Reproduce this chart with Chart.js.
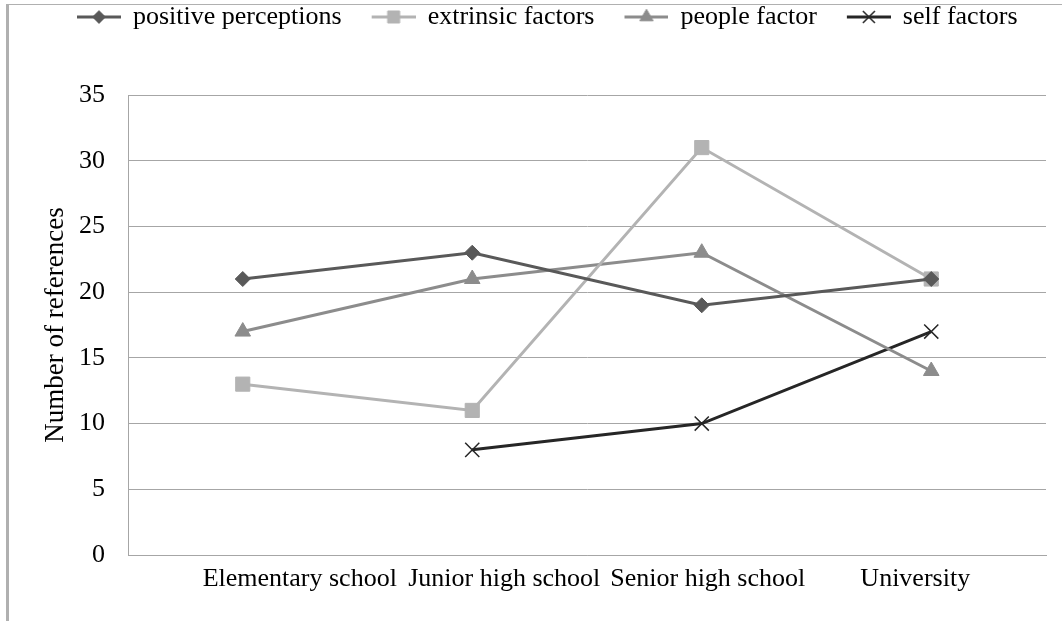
<!DOCTYPE html>
<html>
<head>
<meta charset="utf-8">
<script src="https://cdn.jsdelivr.net/npm/chart.js@4/dist/chart.umd.min.js"></script>
<style>
  html, body { margin: 0; padding: 0; background: #fff; }
  #wrap { width: 1062px; height: 621px; position: relative; }
</style>
</head>
<body>
<div id="wrap"><canvas id="chart" width="1062" height="621"></canvas></div>
<script>
// School levels on the x axis
const categories = ['Elementary school', 'Junior high school', 'Senior high school', 'University'];

// Number of references per factor group
const positivePerceptions = [21, 23, 19, 21];
const extrinsicFactors = [13, 11, 31, 21];
const peopleFactor = [17, 21, 23, 14];
const selfFactors = [null, 8, 10, 17];

// y axis ticks
const yTicks = [0, 5, 10, 15, 20, 25, 30, 35];

const FONT = 'Liberation Serif, Times New Roman, serif';
const AXIS_FS = 26;
const LEGEND_FS = 26;

// Category labels sit packed together rather than exactly under each tick
const LABEL_SHIFT = [57, 32, 6, -16];

const series = [
  { label: 'positive perceptions', data: positivePerceptions, color: '#595959', style: 'rectRot', radius: 7.5 },
  { label: 'extrinsic factors', data: extrinsicFactors, color: '#b3b3b3', style: 'rect', radius: 10 },
  { label: 'people factor', data: peopleFactor, color: '#8c8c8c', style: 'triangle', radius: 9 },
  { label: 'self factors', data: selfFactors, color: '#262626', style: 'crossRot', radius: 10 }
];

// Legend glyph geometry: box width reserved by the legend and the drawn line
const GLYPH_BOX = 69;
const GLYPH_CANVAS = 71;
const LINE_FROM = 27, LINE_TO = 71;

// Small legend glyph: line with the series marker in the middle
function legendGlyph(s) {
  const c = document.createElement('canvas');
  c.width = GLYPH_CANVAS; c.height = 22;
  const g = c.getContext('2d');
  g.strokeStyle = s.color;
  g.lineWidth = 3;
  g.beginPath(); g.moveTo(LINE_FROM, 11); g.lineTo(LINE_TO, 11); g.stroke();
  g.fillStyle = s.color;
  g.lineWidth = s.style === 'crossRot' ? 1.5 : 1;
  Chart.helpers.drawPoint(g, {
    pointStyle: s.style, radius: s.radius * 0.85, rotation: 0, borderWidth: g.lineWidth
  }, (LINE_FROM + LINE_TO) / 2, 11);
  return c;
}

// Outer frame (top and left edges) of the chart area
const framePlugin = {
  id: 'frame',
  beforeDraw(chart) {
    const ctx = chart.ctx;
    ctx.save();
    ctx.fillStyle = '#b0b0b0';
    ctx.fillRect(6, 4, 1062 - 6, 1);
    ctx.fillRect(6, 4, 3, 621 - 4);
    ctx.restore();
  }
};

// Start the legend row at a fixed left edge
const LEGEND_LEFT = 47;
const legendShift = {
  id: 'legendShift',
  afterLayout(chart) {
    if (chart.legend) chart.legend.left = LEGEND_LEFT;
  }
};

const glyphs = series.map(legendGlyph);

new Chart(document.getElementById('chart'), {
  type: 'line',
  data: {
    labels: categories,
    datasets: series.map(s => ({
      label: s.label,
      data: s.data,
      borderColor: s.color,
      backgroundColor: s.color,
      borderWidth: 3,
      pointStyle: s.style,
      pointRadius: s.radius,
      pointHoverRadius: s.radius,
      pointBorderWidth: s.style === 'crossRot' ? 1.5 : 1,
      pointBorderColor: s.color,
      pointBackgroundColor: s.color,
      tension: 0,
      spanGaps: false
    }))
  },
  options: {
    responsive: false,
    animation: false,
    events: [],
    layout: { padding: { top: 0, right: 16, bottom: 0, left: 0 } },
    plugins: {
      tooltip: { enabled: false },
      // empty spacer between legend and plot
      title: {
        display: true, text: '', weight: 500,
        font: { size: 10, lineHeight: 1 },
        padding: { top: 45, bottom: 0 }
      },
      legend: {
        position: 'top',
        align: 'start',
        labels: {
          usePointStyle: true,
          pointStyleWidth: GLYPH_BOX,
          padding: 4,
          color: '#000',
          font: { family: FONT, size: LEGEND_FS },
          generateLabels(chart) {
            const items = Chart.defaults.plugins.legend.labels.generateLabels(chart);
            items.forEach((it, i) => { it.pointStyle = glyphs[i]; it.lineWidth = 0; });
            return items;
          }
        }
      }
    },
    scales: {
      x: {
        offset: true,
        grid: { display: false, drawTicks: false },
        border: { display: true, color: '#a6a6a6', width: 1 },
        ticks: { color: '#000', font: { family: FONT, size: AXIS_FS }, padding: 9, maxRotation: 0, autoSkip: false },
        afterFit(scale) {
          scale.height = 66;
          if (!scale._labelShifted) {
            const base = scale.getPixelForTick.bind(scale);
            scale.getPixelForTick = i => base(i) + (LABEL_SHIFT[i] || 0);
            scale._labelShifted = true;
          }
        }
      },
      y: {
        min: 0,
        max: 35,
        afterBuildTicks(scale) { scale.ticks = yTicks.map(v => ({ value: v })); },
        grid: { color: '#a6a6a6', lineWidth: 1, drawTicks: false },
        border: { display: true, color: '#a6a6a6', width: 1 },
        ticks: { color: '#000', font: { family: FONT, size: AXIS_FS }, padding: 23 },
        title: {
          display: true, text: 'Number of references', color: '#000',
          font: { family: FONT, size: 27, lineHeight: 1.2 },
          padding: { top: 40, bottom: 0 }
        },
        afterFit(scale) { scale.width = 128; }
      }
    }
  },
  plugins: [framePlugin, legendShift]
});
</script>
</body>
</html>
